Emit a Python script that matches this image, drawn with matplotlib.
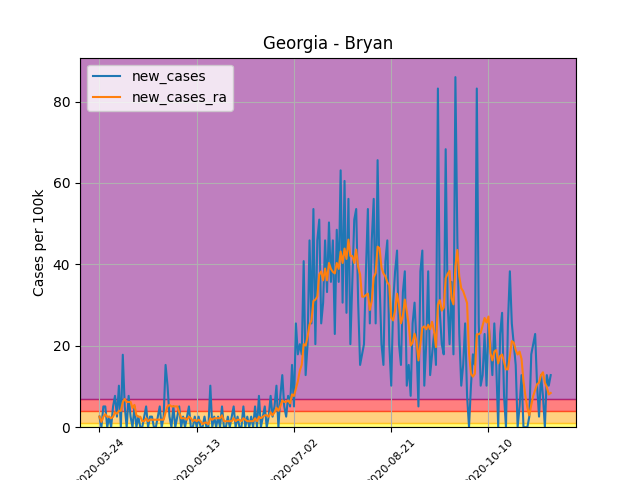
import numpy as np
import pandas as pd
import matplotlib
matplotlib.use("Agg")
import matplotlib.pyplot as plt

start_date = "2020-03-24"
new_cases = [
    # late March - April
    2.6, 0, 5.1, 5.1, 0, 2.6, 0, 5.1, 7.7, 2.6, 10.2, 0, 17.8, 5.1, 0, 7.7, 2.6, 0, 5.1, 0,
    2.6, 0, 0, 2.6, 5.1, 0, 2.6, 2.6, 0, 0, 2.6, 5.1, 0, 2.6, 15.3, 10.2, 2.6, 0,
    # May
    5.1, 0, 2.6, 5.1, 0, 2.6, 0, 2.6, 5.1, 0, 0, 2.6, 0, 2.6, 0, 0, 2.6, 0, 0, 10.2,
    0, 2.6, 0, 2.6, 0, 5.1, 0, 0, 2.6, 0, 2.6, 5.1, 0, 2.6, 0, 0, 5.1, 0, 2.6, 0,
    # June
    2.6, 0, 5.1, 0, 7.7, 0, 2.6, 5.1, 0, 2.6, 7.7, 2.6, 5.1, 10.2, 0, 7.7, 12.8, 5.1, 2.6, 7.7,
    5.1, 15.3, 5.1, 25.5, 17.9, 20.4, 17.9, 40.8, 12.8, 20.4, 45.9,
    # July
    25.5, 53.6, 20.4, 45.9, 51.0, 25.5, 30.6, 45.9, 33.2, 50.3, 35.7, 45.9, 22.9, 48.5, 35.7, 63.1,
    30.6, 60.5, 28.1, 56.1, 20.4, 35.7, 51.0, 53.6, 30.6, 15.3, 17.9, 20.4, 38.3, 53.6, 25.5, 45.9,
    # August
    56.1, 25.5, 65.6, 35.7, 20.4, 15.3, 40.8, 45.9, 20.4, 10.2, 30.6, 38.3, 43.4, 20.4, 15.3,
    33.2, 38.3, 10.2, 15.3, 7.7, 25.5, 30.6, 20.4, 5.1, 38.3, 43.4, 10.2,
    # September
    20.4, 38.3, 12.8, 17.9, 22.9, 15.3, 83.2, 28.1, 20.4, 17.9, 68.3, 30.6, 20.4,
    35.7, 17.9, 86.0, 45.9, 22.9, 10.2, 15.3, 25.5, 7.7, 0, 10.2, 17.9, 15.3, 83.2, 25.5, 10.2,
    # October
    12.8, 22.9, 10.2, 25.5, 20.4, 12.8, 25.5, 15.3, 0, 22.9, 28.1, 7.7, 0, 25.5, 38.3, 25.5,
    20.4, 15.3, 0, 5.1, 12.8, 0, 0, 0, 2.6, 17.9, 20.4, 22.9, 10.2, 2.6, 12.8, 7.7, 0, 12.8,
    10.2, 12.8,
]
new_cases = np.array(new_cases)
dates = pd.date_range(start_date, periods=len(new_cases), freq="D")
new_cases_ra = pd.Series(new_cases).rolling(7, min_periods=1).mean().values

# risk bands (per 100k)
band_edges = [0, 1, 4, 7, 91]
band_colors = ["yellow", "orange", "red", "purple"]

fig, ax = plt.subplots(figsize=(6.4, 4.8), dpi=100)
for lo, hi, c in zip(band_edges[:-1], band_edges[1:], band_colors):
    ax.axhspan(lo, hi, color=c, alpha=0.5, zorder=0)
ax.plot(dates, new_cases, label="new_cases", zorder=2)
ax.plot(dates, new_cases_ra, label="new_cases_ra", zorder=3)

ticks = pd.date_range("2020-03-24", periods=5, freq="50D")
ax.set_xticks(ticks)
ax.set_xticklabels([t.strftime("%Y-%m-%d") for t in ticks], rotation=45, fontsize=8)
ax.set_xlim(pd.Timestamp("2020-03-14"), pd.Timestamp("2020-11-24"))
ax.set_ylim(0, 90.8)
ax.grid(True, zorder=1)
ax.set_axisbelow(True)
ax.set_ylabel("Cases per 100k")
ax.set_title("Georgia - Bryan")
ax.legend(loc="upper left")
fig.savefig("out.png")
